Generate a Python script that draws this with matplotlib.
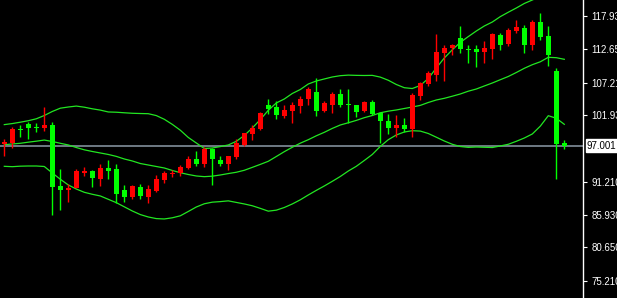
import matplotlib
matplotlib.use("Agg")
import matplotlib.pyplot as plt
import numpy as np

# ---- data ----
opens = [97.25, 97.51, 99.67, 100.52, 99.99, 99.83, 100.36, 90.53, 89.88, 90.25,
         92.67, 92.94, 91.65, 93.43, 93.27, 89.88, 88.80, 90.32, 88.80, 89.77,
         91.49, 92.51, 92.57, 93.48, 94.88, 94.12, 96.44, 94.72, 94.12, 95.25,
         97.09, 98.91, 99.71, 103.54, 103.31, 101.86, 102.62, 103.47, 104.50, 105.68,
         102.62, 103.63, 105.36, 103.63, 103.58, 102.62, 104.02, 102.29, 101.00, 99.92,
         100.36, 99.76, 105.08, 106.97, 108.42, 111.92, 112.77, 114.34, 112.56, 112.61,
         112.18, 112.66, 114.92, 113.47, 115.51, 115.94, 113.30, 116.96, 114.71, 109.07,
         97.46]
highs = [98.10, 100.09, 100.36, 100.79, 100.73, 103.26, 100.79, 93.27, 90.80, 93.27,
         93.64, 93.11, 94.03, 94.72, 94.07, 90.69, 90.69, 90.85, 90.61, 92.30,
         92.99, 93.11, 93.86, 95.36, 96.17, 96.77, 96.60, 95.36, 95.31, 98.05,
         99.07, 100.36, 102.50, 104.55, 104.18, 103.54, 104.02, 105.08, 106.44, 107.94,
         104.23, 105.63, 106.16, 106.16, 103.58, 104.28, 104.39, 102.50, 102.13, 101.97,
         101.49, 105.52, 107.24, 109.07, 115.03, 113.30, 113.42, 116.37, 113.26, 113.26,
         113.90, 115.24, 115.14, 115.94, 117.29, 116.48, 117.29, 118.41, 116.32, 109.50,
         97.94]
lows = [95.36, 96.70, 98.38, 98.15, 99.23, 99.44, 85.77, 86.66, 88.00, 90.16,
        92.14, 90.41, 90.53, 91.70, 87.74, 87.95, 88.51, 88.35, 87.79, 89.61,
        91.06, 91.93, 92.19, 93.22, 93.75, 93.64, 90.69, 93.75, 93.15, 94.83,
        96.98, 97.94, 99.55, 102.13, 101.33, 101.54, 100.63, 102.34, 103.54, 101.81,
        102.41, 102.34, 103.31, 100.63, 101.70, 102.41, 101.97, 97.46, 98.91, 98.38,
        99.31, 98.43, 104.39, 106.65, 107.50, 107.45, 111.69, 111.92, 110.31, 109.66,
        110.40, 111.05, 112.45, 113.14, 115.24, 112.01, 112.45, 114.06, 109.92, 91.65,
        96.49]
closes = [97.62, 99.76, 99.55, 99.87, 99.87, 100.36, 90.41, 89.88, 90.25, 92.94,
          92.90, 91.77, 93.48, 92.99, 89.24, 88.80, 90.53, 88.96, 90.04, 91.65,
          92.57, 92.67, 93.54, 94.88, 94.03, 96.44, 94.93, 94.12, 95.31, 97.41,
          99.07, 99.83, 102.25, 102.94, 101.92, 102.78, 103.58, 104.55, 106.11, 102.67,
          103.86, 105.36, 103.54, 103.54, 102.50, 104.02, 102.13, 101.05, 99.87, 100.36,
          99.76, 105.20, 107.08, 108.74, 112.13, 112.82, 113.26, 112.56, 112.40, 112.18,
          112.77, 115.08, 113.26, 115.67, 116.16, 113.30, 117.01, 114.59, 111.64, 97.35,
          97.00]

band_upper = [100.42, 100.59, 100.81, 101.05, 101.36, 101.89, 102.54, 103.07, 103.26, 103.41,
              103.23, 102.97, 102.76, 102.46, 102.42, 102.33, 102.25, 102.21, 102.18, 101.88,
              101.28, 100.46, 99.52, 98.35, 97.46, 96.57, 96.65, 96.88, 97.14, 97.73,
              98.67, 99.88, 101.23, 102.73, 103.91, 104.55, 105.44, 106.08, 106.97, 107.45,
              107.78, 108.10, 108.31, 108.40, 108.36, 108.34, 108.36, 108.08, 107.57, 106.89,
              106.37, 106.24, 106.73, 107.86, 109.55, 111.16, 112.48, 113.68, 114.61, 115.51,
              116.32, 116.96, 117.83, 118.54, 119.22, 119.95, 120.51, 121.07, 121.64, 122.12,
              122.44]
band_middle = [97.18, 97.30, 97.41, 97.59, 97.75, 97.93, 97.70, 97.41, 97.14, 96.73,
               96.36, 96.09, 95.85, 95.61, 95.30, 94.88, 94.56, 94.15, 93.91, 93.67,
               93.43, 93.03, 92.67, 92.38, 92.14, 92.03, 92.11, 92.30, 92.53, 92.74,
               93.06, 93.53, 94.01, 94.51, 95.28, 96.06, 96.77, 97.43, 97.99, 98.62,
               99.18, 99.81, 100.36, 100.72, 101.10, 101.54, 101.89, 102.33, 102.59, 102.78,
               103.02, 103.26, 103.52, 103.99, 104.39, 104.66, 105.00, 105.36, 105.81, 106.16,
               106.65, 107.13, 107.66, 108.18, 108.82, 109.50, 110.08, 110.55, 111.27, 111.21,
               110.95]
band_lower = [93.70, 93.64, 93.72, 93.75, 93.75, 93.67, 92.62, 91.62, 90.69, 90.04,
              89.51, 89.19, 88.92, 88.38, 87.84, 87.17, 86.50, 85.92, 85.53, 85.27,
              85.21, 85.40, 85.72, 86.42, 87.14, 87.66, 87.92, 88.01, 88.13, 87.88,
              87.63, 87.34, 86.92, 86.47, 86.63, 87.06, 87.63, 88.30, 89.08, 89.82,
              90.53, 91.28, 92.06, 92.94, 93.70, 94.64, 95.61, 96.91, 97.99, 98.75,
              99.23, 99.44, 99.38, 98.99, 98.39, 97.78, 97.25, 96.89, 96.75, 96.81,
              96.77, 96.73, 96.98, 97.25, 97.73, 98.26, 98.91, 100.17, 101.86, 101.44,
              100.47]

tick_values = [117.93, 112.65, 107.21, 101.93, 91.21, 85.93, 80.65, 75.21]
tick_labels = ["117.930", "112.650", "107.210", "101.930", "91.210", "85.930", "80.650", "75.210"]
current_price = 97.001
current_label = "97.001"

# ---- drawing ----
W, H = 617, 298
fig = plt.figure(figsize=(W / 100, H / 100), dpi=100, facecolor="black")
ax = fig.add_axes([0, 0, 583 / W, 1])
ax.set_facecolor("black")

n = len(opens)
x = np.arange(n)
o = np.array(opens); c = np.array(closes)
hi = np.array(highs); lo = np.array(lows)
up = c >= o
cols = np.where(up, "#ff0000", "#00ff00")

BAND = "#22e622"
ax.plot(x, band_upper, color=BAND, lw=0.9, zorder=2)
ax.plot(x, band_middle, color=BAND, lw=0.9, zorder=2)
ax.plot(x, band_lower, color=BAND, lw=0.9, zorder=2)

ax.axhline(current_price, color="#8c9aa8", lw=1.1, zorder=1)

ax.vlines(x, lo, hi, colors=cols, lw=1.0, zorder=3)
bottom = np.minimum(o, c)
height = np.maximum(np.abs(c - o), 0.17)
ax.bar(x, height, bottom=bottom, width=0.62, color=cols, linewidth=0, zorder=4)

ax.set_xlim(-4.3 / 8, (583 - 4.3) / 8)
ax.set_ylim(72.47, 120.51)

for s in ["left", "top", "bottom"]:
    ax.spines[s].set_visible(False)
ax.spines["right"].set_color("white")
ax.spines["right"].set_linewidth(1.0)
ax.set_xticks([])
ax.yaxis.tick_right()
ax.set_yticks(tick_values)
ax.set_yticklabels(tick_labels)
ax.tick_params(axis="y", colors="white", length=3, width=0.8, pad=3,
               labelsize=7, labelcolor="white")
for t in ax.get_yticklabels():
    t.set_fontfamily("Liberation Sans")

ax.text(1.0 + 4 / 583, current_price, current_label, transform=ax.get_yaxis_transform(),
        va="center", ha="left", fontsize=7, color="black", family="Liberation Sans",
        bbox=dict(boxstyle="square,pad=0.15", fc="white", ec="white"), clip_on=False)

fig.savefig("out.png", dpi=100, facecolor="black")
